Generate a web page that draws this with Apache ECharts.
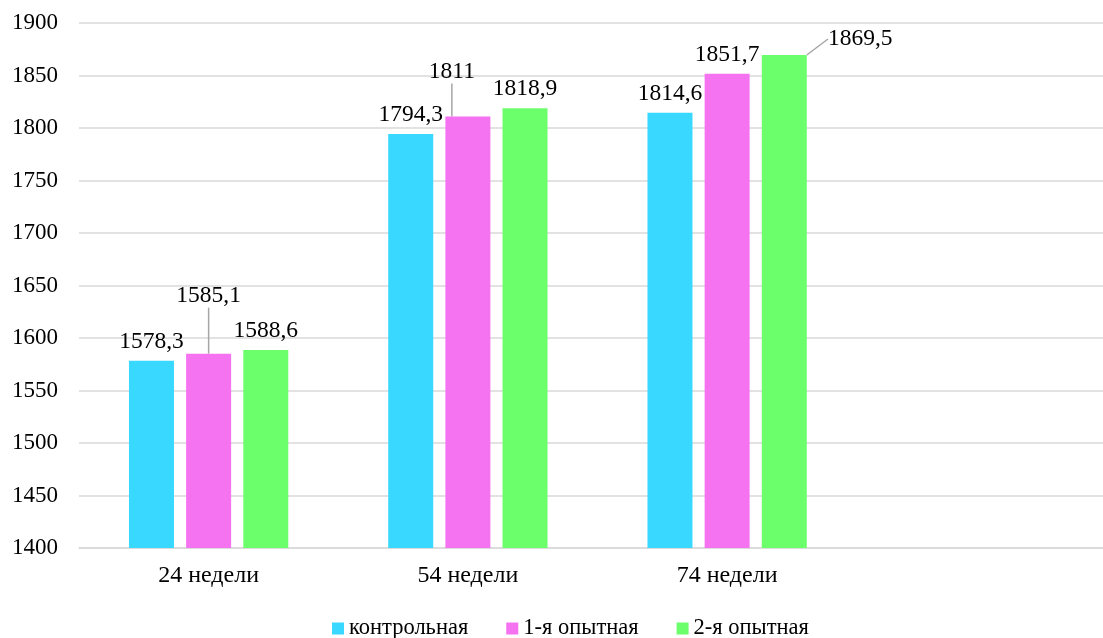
<!DOCTYPE html>
<html>
<head>
<meta charset="utf-8">
<script src="https://cdn.jsdelivr.net/npm/echarts@6/dist/echarts.min.js"></script>
<style>
  html, body { margin: 0; padding: 0; background: #ffffff; overflow: hidden; }
  /* the canvas runs a little past the window edge, so the last (empty) slot is cut off */
  #chart { width: 1116px; height: 638px; }
</style>
</head>
<body>
<div id="chart"></div>
<script>
// Age groups (the trailing empty slot leaves room on the right)
const categories = ['24 недели', '54 недели', '74 недели', ''];
const seriesNames = ['контрольная', '1-я опытная', '2-я опытная'];
const control = [1578.3, 1794.3, 1814.6];
const group1 = [1585.1, 1811, 1851.7];
const group2 = [1588.6, 1818.9, 1869.5];
const yTicks = { min: 1400, max: 1900, step: 50 };

const colors = ['#38d8ff', '#f573f0', '#6cff6c'];
const FONT = '"Liberation Serif", "Times New Roman", serif';

// Labels that sit off their bars, joined by a leader line: [series, index, dx, dy]
const movedLabels = [
  [1, 0, 0, -39],
  [1, 1, -16, -26],
  [2, 2, 76, 3]
];

function fmt(v) { return String(v).replace('.', ','); }

function buildSeries(values, si) {
  return {
    name: seriesNames[si],
    type: 'bar',
    barWidth: 45,
    barGap: '27%',
    itemStyle: { color: colors[si] },
    label: {
      show: true,
      position: 'top',
      distance: 7,
      color: '#000',
      fontFamily: FONT,
      fontSize: 23.5,
      formatter: p => fmt(p.value)
    },
    labelLine: { show: false },
    labelLayout: function (params) {
      const m = movedLabels.find(r => r[0] === si && r[1] === params.dataIndex);
      return m ? { dx: m[2], dy: m[3] } : {};
    },
    data: values.map((v, i) => {
      const moved = movedLabels.some(r => r[0] === si && r[1] === i);
      return moved
        ? { value: v, labelLine: { show: true, lineStyle: { color: '#a6a6a6', width: 1.5 } } }
        : { value: v };
    })
  };
}

const chart = echarts.init(document.getElementById('chart'), null, { renderer: 'canvas' });
chart.setOption({
  animation: false,
  backgroundColor: '#ffffff',
  grid: { left: 79, right: 0, top: 23, bottom: 90, containLabel: false },
  legend: {
    data: seriesNames,
    left: 332,
    top: 617,
    padding: 0,
    itemWidth: 12,
    itemHeight: 12,
    itemGap: 38,
    icon: 'rect',
    textStyle: { fontFamily: FONT, fontSize: 22.5, color: '#000' }
  },
  xAxis: {
    type: 'category',
    data: categories,
    axisLine: { show: true, lineStyle: { color: '#d9d9d9', width: 1.5 } },
    axisTick: { show: false },
    axisLabel: { color: '#000', fontFamily: FONT, fontSize: 24, margin: 16 }
  },
  yAxis: {
    type: 'value',
    min: yTicks.min,
    max: yTicks.max,
    interval: yTicks.step,
    axisLine: { show: false },
    axisTick: { show: false },
    splitLine: { lineStyle: { color: '#d9d9d9', width: 1.5 } },
    axisLabel: {
      color: '#000', fontFamily: FONT, fontSize: 23, margin: 21,
      formatter: v => String(v)
    }
  },
  series: [buildSeries(control, 0), buildSeries(group1, 1), buildSeries(group2, 2)]
});
</script>
</body>
</html>
